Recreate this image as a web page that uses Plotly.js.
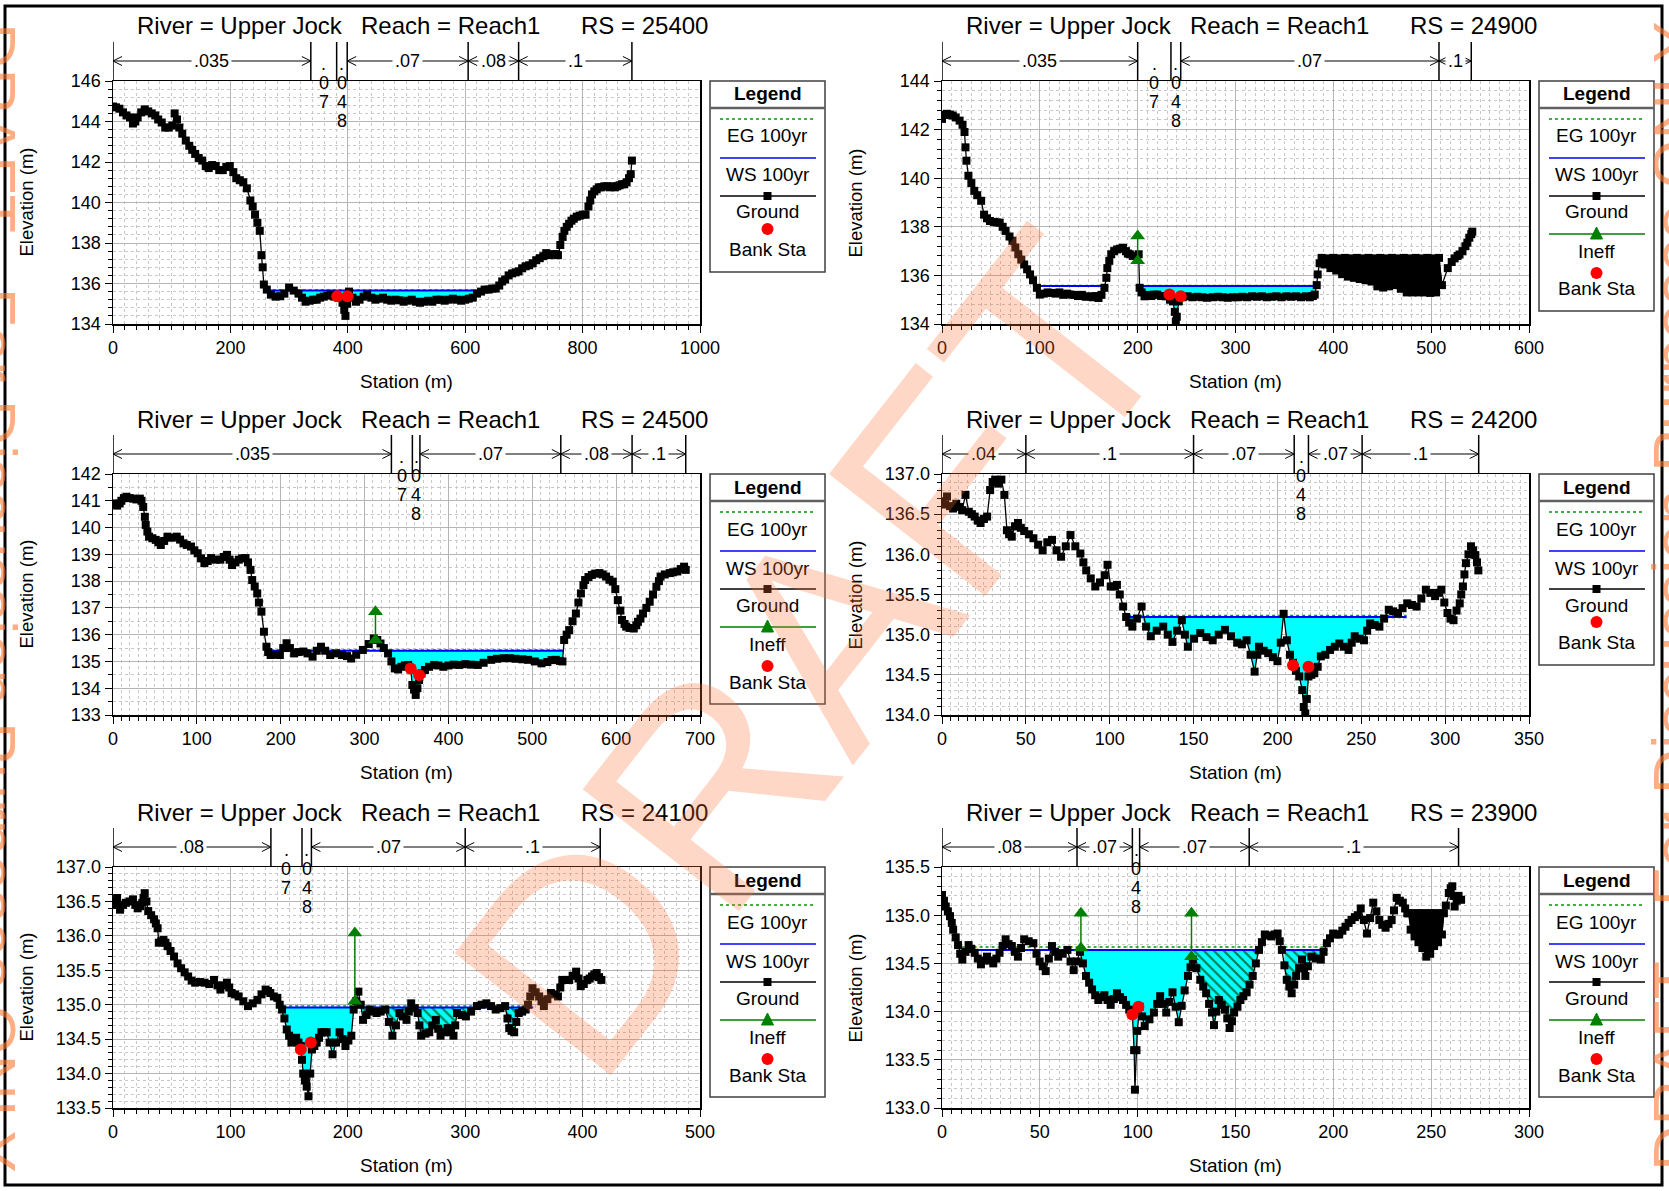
<!DOCTYPE html>
<html><head><meta charset="utf-8">
<script src="https://cdn.plot.ly/plotly-3.0.1.min.js"></script>
<style>html,body{margin:0;padding:0;background:#fff;}#chart{width:1669px;height:1191px;}</style>
</head><body><div id="chart"></div>
<script>
// ---------------- DATA ----------------
const riverName = 'Upper Jock';
const reachName = 'Reach1';
const rsLabels = ['25400', '24900', '24500', '24200', '24100', '23900'];
const legendLabels = {eg: 'EG 100yr', ws: 'WS 100yr', ground: 'Ground', ineff: 'Ineff', bank: 'Bank Sta'};

// Panel 1 RS 25400
const ground1 = [[0,144.74],[5,144.7],[11,144.63],[17,144.45],[23,144.3],[29,144.2],[34,143.9],[38,144.0],[42,144.2],[48,144.45],[54,144.6],[60,144.5],[66,144.4],[72,144.3],[77,144.1],[83,143.95],[89,143.7],[95,143.7],[101,143.8],[105,144.4],[109,144.1],[113,143.7],[118,143.4],[124,143.06],[130,142.8],[135,142.6],[140,142.4],[146,142.2],[152,142.07],[158,141.8],[163,141.7],[169,141.85],[175,141.8],[181,141.6],[187,141.6],[193,141.75],[199,141.8],[205,141.5],[210,141.2],[216,141.1],[222,141.0],[228,140.7],[234,140.1],[238,139.8],[242,139.4],[246,139.0],[250,138.6],[253,137.4],[255,136.8],[257,135.95],[262,135.7],[269,135.45],[277,135.35],[285,135.37],[292,135.5],[300,135.8],[308,135.65],[316,135.5],[322,135.3],[328,135.1],[335,135.15],[341,135.2],[347,135.2],[353,135.3],[359,135.35],[365,135.4],[371,135.45],[377,135.35],[384,135.3],[391,135.05],[394,134.7],[396,134.4],[399,135.0],[402,135.6],[408,135.3],[414,135.1],[420,135.2],[427,135.35],[433,135.45],[440,135.3],[447,135.2],[453,135.25],[460,135.3],[467,135.2],[474,135.15],[481,135.2],[488,135.17],[495,135.1],[502,135.15],[509,135.2],[516,135.1],[523,135.05],[530,135.1],[537,135.15],[544,135.1],[551,135.2],[558,135.2],[565,135.15],[572,135.2],[579,135.25],[586,135.2],[593,135.15],[600,135.2],[606,135.25],[613,135.3],[620,135.5],[627,135.6],[633,135.7],[640,135.7],[646,135.75],[652,135.75],[658,135.9],[663,136.1],[668,136.2],[674,136.4],[680,136.5],[686,136.55],[691,136.6],[697,136.75],[703,136.85],[709,136.9],[715,137.0],[721,137.15],[727,137.25],[733,137.35],[738,137.5],[744,137.4],[750,137.45],[755,137.45],[758,137.4],[762,137.9],[766,138.3],[769,138.6],[773,138.8],[777,138.95],[781,139.1],[785,139.2],[790,139.3],[795,139.35],[800,139.4],[805,139.4],[810,139.8],[813,140.1],[816,140.4],[820,140.55],[824,140.65],[828,140.75],[832,140.75],[837,140.8],[842,140.8],[847,140.75],[851,140.8],[855,140.75],[859,140.8],[863,140.85],[867,140.9],[871,140.9],[875,141.0],[879,141.2],[882,141.4],[884,142.07]];
const bank1 = [[382,135.37],[399.5,135.37]];
const ws1 = 135.65, eg1 = 135.68;
const wsExt1 = [[262,655]];
const cyan1 = [[262,655]];
const hatch1 = [];
const dense1 = [];
const ineff1 = [];
const nBounds1 = [0,337,381,399,605,691,884];
const nVals1 = ['.035','.07','.048','.07','.08','.1'];

// Panel 2 RS 24900
const ground2 = [[0,142.44],[3,142.6],[5,142.65],[8,142.62],[11,142.58],[14,142.5],[18,142.37],[21,142.2],[23,141.9],[24,141.27],[25,140.72],[27,140.1],[30,139.8],[33,139.48],[36,139.3],[40,139.07],[43,138.5],[46,138.35],[49,138.24],[53,138.2],[56,138.18],[59,138.17],[62,138.0],[65,137.83],[69,137.6],[72,137.42],[75,137.15],[78,136.87],[81,136.65],[84,136.45],[87,136.25],[90,136.04],[93,135.8],[97,135.49],[100,135.21],[104,135.25],[108,135.3],[112,135.28],[116,135.25],[120,135.3],[124,135.2],[128,135.25],[131,135.21],[135,135.2],[139,135.15],[143,135.2],[147,135.12],[150,135.14],[154,135.1],[157,135.15],[160,135.07],[163,135.2],[166,135.49],[168,135.9],[169,136.3],[171,136.6],[173,136.87],[176,137.0],[179,137.07],[182,137.1],[185,137.14],[188,137.0],[190,136.9],[192,136.87],[195,136.8],[198,136.8],[201,136.87],[202,135.49],[204,135.3],[207,135.14],[210,135.2],[214,135.15],[217,135.21],[220,135.21],[224,135.15],[229,135.14],[233,135.0],[236,134.93],[238,134.5],[239,134.1],[240,134.3],[242,134.93],[246,135.1],[251,135.14],[256,135.1],[261,135.12],[266,135.1],[271,135.08],[277,135.1],[282,135.12],[287,135.1],[292,135.08],[297,135.1],[302,135.1],[307,135.12],[312,135.1],[317,135.14],[322,135.12],[327,135.14],[332,135.1],[337,135.12],[342,135.14],[347,135.1],[352,135.14],[357,135.12],[362,135.14],[367,135.1],[372,135.14],[376,135.1],[379,135.15],[381,135.21],[383,135.6],[384,136.04],[386,136.5],[388,136.72],[391,136.45],[394,136.7],[397,136.3],[400,136.72],[403,136.2],[406,136.7],[409,136.05],[412,136.72],[415,135.95],[418,136.7],[421,135.9],[424,136.72],[427,135.85],[430,136.7],[433,135.8],[436,136.72],[439,135.75],[442,136.7],[445,135.55],[448,136.72],[451,135.5],[454,136.7],[457,135.55],[460,136.72],[463,135.6],[466,136.7],[469,135.45],[472,136.72],[475,135.3],[478,136.7],[481,135.3],[484,136.72],[487,135.3],[490,136.7],[493,135.3],[496,136.72],[499,135.28],[502,136.7],[505,135.3],[508,136.72],[511,135.6],[517,136.3],[521,136.55],[524,136.7],[527,136.8],[529,136.86],[532,137.0],[535,137.2],[537,137.35],[539,137.55],[541,137.7],[542,137.8]];
const bank2 = [[232.5,135.21],[244,135.14]];
const ws2 = 135.56, eg2 = 135.58;
const wsExt2 = [[97,166],[203,384]];
const cyan2 = [[203,384]];
const hatch2 = [];
const dense2 = [[388,511]];
const ineff2 = [[200,136.6,137.62]];
const nBounds2 = [0,200,234,244,508,541];
const nVals2 = ['.035','.07','.048','.07','.1'];

// Panel 3 RS 24500
const ground3 = [[0,140.9],[3,140.85],[5,140.82],[8,140.9],[10,141.0],[13,141.1],[16,141.15],[20,141.1],[24,141.08],[28,141.05],[32,141.08],[34,141.0],[36,140.77],[38,140.4],[39,140.1],[41,139.85],[43,139.66],[47,139.6],[51,139.54],[54,139.45],[57,139.35],[61,139.5],[65,139.66],[70,139.62],[76,139.66],[80,139.55],[84,139.41],[88,139.35],[93,139.29],[97,139.15],[101,139.04],[105,138.85],[109,138.67],[113,138.75],[117,138.86],[122,138.8],[128,138.8],[132,138.9],[136,138.98],[139,138.8],[142,138.6],[146,138.7],[150,138.8],[154,138.85],[158,138.86],[161,138.7],[164,138.42],[166,138.04],[169,137.8],[172,137.54],[174,137.2],[177,136.86],[180,136.11],[183,135.55],[185,135.35],[188,135.24],[193,135.25],[199,135.24],[203,135.5],[207,135.68],[211,135.5],[216,135.3],[221,135.35],[227,135.37],[232,135.3],[238,135.18],[243,135.4],[248,135.55],[253,135.4],[259,135.24],[266,135.3],[273,135.24],[279,135.2],[284,135.11],[290,135.25],[298,135.43],[305,135.65],[311,135.86],[315,135.8],[319,135.67],[323,135.5],[328,135.3],[332,135.0],[336,134.74],[340,134.7],[344,134.8],[348,134.85],[352,134.87],[355,134.7],[357,134.12],[359,133.95],[361,133.75],[363,134.0],[365,134.31],[368,134.55],[372,134.68],[377,134.8],[383,134.87],[388,134.85],[394,134.8],[400,134.85],[406,134.88],[413,134.87],[420,134.9],[427,134.88],[435,134.87],[442,134.95],[451,135.06],[458,135.1],[466,135.12],[473,135.12],[480,135.1],[488,135.08],[495,135.06],[503,135.0],[511,134.93],[518,134.98],[523,135.05],[528,135.06],[533,135.02],[536,135.0],[538,135.8],[541,136.0],[544,136.17],[548,136.5],[552,136.79],[555,137.2],[558,137.54],[561,137.85],[563,138.04],[567,138.15],[571,138.23],[575,138.28],[580,138.3],[584,138.25],[588,138.17],[592,138.05],[596,137.98],[599,137.7],[602,137.29],[605,136.9],[607,136.55],[610,136.4],[612,136.3],[616,136.25],[621,136.23],[624,136.35],[626,136.48],[629,136.6],[632,136.79],[636,137.0],[640,137.23],[644,137.5],[648,137.79],[651,138.0],[653,138.17],[658,138.25],[664,138.3],[668,138.33],[673,138.36],[677,138.45],[681,138.54],[683,138.42]];
const bank3 = [[355,134.74],[365,134.49]];
const ws3 = 135.4, eg3 = 135.43;
const wsExt3 = [[188,537]];
const cyan3 = [[313,537]];
const hatch3 = [];
const dense3 = [];
const ineff3 = [[313,135.8,136.86]];
const nBounds3 = [0,332,357,366,534,619,683];
const nVals3 = ['.035','.07','.048','.07','.08','.1'];

// Panel 4 RS 24200
const ground4 = [[0,136.66],[1.5,136.62],[3,136.72],[4.8,136.6],[6.6,136.57],[8.5,136.63],[10.3,136.59],[12,136.55],[14,136.74],[16,136.53],[17.8,136.5],[19.5,136.47],[21.3,136.42],[23,136.39],[25,136.44],[26.9,136.47],[28.7,136.8],[30.2,136.9],[31.7,136.93],[33.5,136.88],[35.4,136.93],[37.2,136.74],[38.7,136.3],[40,136.25],[41.6,136.22],[43.5,136.35],[45.3,136.39],[47,136.33],[49,136.29],[51.8,136.25],[54.5,136.2],[57.3,136.12],[60,136.05],[62.8,136.15],[65.6,136.18],[68.3,136.05],[71,135.97],[73.8,136.1],[76.6,136.24],[79.5,136.1],[82.5,136.01],[84.3,135.9],[86,135.8],[88.7,135.7],[91.4,135.6],[94.2,135.65],[97,135.74],[98.7,135.87],[100.6,135.6],[102.5,135.6],[104.3,135.62],[106,135.5],[108,135.35],[109.8,135.22],[111.6,135.15],[113.5,135.1],[116.2,135.2],[119,135.35],[121.7,135.1],[124.5,134.98],[128,135.05],[131.9,135.1],[134.6,135.0],[137.4,134.91],[140.2,135.05],[143,135.18],[144.8,135.0],[146.6,134.85],[150.3,134.95],[154,135.02],[157.7,134.97],[161.4,134.93],[165,135.0],[168.7,135.06],[172.3,134.98],[176,134.9],[178.8,134.88],[181.6,134.93],[184,134.75],[186.4,134.54],[188,134.75],[189,134.85],[191.8,134.8],[194.5,134.77],[197.3,134.72],[200,134.67],[202,134.9],[203.7,135.26],[205.6,134.93],[207.5,134.75],[209.3,134.65],[211,134.55],[213,134.48],[214.8,134.31],[215.7,134.1],[216.6,134.02],[217.5,134.2],[218.5,134.48],[220.2,134.5],[222,134.52],[224,134.6],[225.9,134.73],[228.6,134.75],[231.4,134.81],[234.2,134.85],[236.9,134.89],[239.6,134.85],[242.4,134.81],[244.3,134.9],[246.1,134.98],[249,134.95],[251.6,134.93],[253.5,135.05],[255.3,135.14],[258,135.12],[260.8,135.1],[263.6,135.2],[266.4,135.31],[269,135.29],[271.9,135.27],[274.6,135.33],[277.4,135.39],[280.2,135.37],[283,135.35],[285.8,135.45],[288.5,135.56],[291.2,135.52],[294,135.48],[295.8,135.52],[297.7,135.56],[299.5,135.4],[301.4,135.27],[303.2,135.2],[305,135.18],[306.8,135.3],[308.7,135.39],[309.6,135.5],[310.6,135.6],[311.5,135.75],[312.4,135.89],[313.9,136.0],[315.4,136.1],[316.7,136.05],[318,135.99],[319,135.9],[319.8,135.8]];
const bank4 = [[209.3,134.62],[218.5,134.6]];
const ws4 = 135.22, eg4 = 135.24;
const wsExt4 = [[111,277]];
const cyan4 = [[111,277]];
const hatch4 = [];
const dense4 = [];
const ineff4 = [];
const nBounds4 = [0,50,150,210,218.5,250.5,320];
const nVals4 = ['.04','.1','.07','.048','.07','.1'];

// Panel 5 RS 24100
const ground5 = [[0,136.5],[1.7,136.45],[3.5,136.55],[4.7,136.45],[6,136.38],[8.5,136.45],[11,136.48],[14,136.5],[17,136.53],[19,136.45],[21,136.4],[23,136.43],[25,136.48],[26,136.55],[27,136.62],[28.5,136.5],[30,136.36],[32.5,136.3],[35,136.24],[36.5,136.18],[38,136.11],[39,135.9],[41,135.92],[43,135.94],[44.7,135.9],[46.5,135.85],[49,135.78],[52,135.7],[55,135.6],[58,135.53],[61,135.47],[64,135.41],[67,135.35],[70,135.32],[74,135.33],[78,135.32],[82,135.3],[86,135.36],[89,135.28],[91.5,135.22],[94,135.28],[97,135.32],[99,135.25],[101,135.17],[104,135.15],[107,135.12],[111,135.05],[115,134.98],[119,135.02],[123,135.07],[126.5,135.15],[130,135.22],[132,135.2],[134,135.17],[137,135.12],[140,135.1],[142,135.0],[144,134.93],[146,134.8],[148,134.64],[150,134.55],[152,134.45],[154,134.48],[156,134.52],[158,134.45],[160,134.4],[161,134.2],[162,134.0],[163.5,133.9],[165,133.81],[166.5,133.67],[168,134.0],[169.5,134.35],[171.5,134.4],[173.5,134.45],[175.5,134.52],[177.5,134.6],[180,134.6],[182,134.6],[184.5,134.45],[187,134.28],[190,134.45],[193,134.6],[195.5,134.5],[198,134.4],[200.5,134.48],[203,134.55],[205,134.93],[207,135.05],[209,135.19],[211,135.0],[213,134.78],[216,134.85],[218.5,134.93],[221.5,134.9],[224.5,134.88],[228,134.9],[232,134.93],[235,134.75],[238,134.55],[241,134.7],[244,134.88],[247,134.83],[250,134.78],[252,134.9],[254,135.02],[257,134.95],[259.5,134.88],[261,134.7],[262.5,134.55],[266,134.58],[269.4,134.6],[272,134.7],[275,134.78],[277,134.65],[279,134.55],[282,134.6],[285,134.66],[287.5,134.6],[290,134.55],[291.5,134.7],[293,134.88],[297,134.85],[300.6,134.83],[305,134.9],[310,134.98],[314,135.0],[318,135.02],[322,134.98],[326,134.93],[330,134.95],[334,134.98],[336,134.8],[337.5,134.66],[339.5,134.62],[341.7,134.6],[343.5,134.75],[345.6,134.88],[348.5,134.9],[351.5,134.93],[353.5,135.0],[355.4,135.12],[357.3,135.24],[360,135.18],[363,135.12],[365,135.05],[367,134.98],[370,135.08],[373,135.17],[376,135.15],[379,135.12],[381,135.25],[382.7,135.36],[385.6,135.36],[388.6,135.36],[391.5,135.42],[394.5,135.48],[396.5,135.38],[398.4,135.27],[401,135.3],[404,135.36],[406,135.38],[408,135.41],[410,135.44],[412,135.46],[414,135.4],[416,135.36]];
const bank5 = [[160,134.35],[168.5,134.45]];
const ws5 = 134.96, eg5 = 134.98;
const wsExt5 = [[145,358]];
const cyan5 = [[145,206]];
const hatch5 = [[206,358]];
const dense5 = [];
const ineff5 = [[206,135.05,136.04]];
const nBounds5 = [0,134.5,161,169,300,415];
const nVals5 = ['.08','.07','.048','.07','.1'];

// Panel 6 RS 23900
const ground6 = [[0,135.21],[1,135.15],[1.9,135.09],[3,135.04],[4.1,134.99],[5,134.92],[5.7,134.85],[7,134.77],[8.2,134.69],[9.3,134.6],[10.4,134.54],[12,134.62],[13.6,134.69],[15,134.65],[16.7,134.61],[18.3,134.55],[19.9,134.49],[21.5,134.53],[23,134.57],[24.6,134.53],[26.2,134.5],[27.8,134.55],[29.4,134.61],[31,134.68],[32.5,134.75],[34,134.7],[35.7,134.68],[37.2,134.62],[38.8,134.57],[40.4,134.66],[42,134.75],[44.3,134.73],[46.7,134.71],[48.3,134.6],[49.9,134.52],[51.5,134.47],[53,134.42],[54.6,134.55],[56.2,134.68],[57.8,134.62],[59.4,134.57],[61.7,134.6],[64.1,134.64],[65.7,134.52],[67.3,134.43],[68.9,134.52],[70.5,134.62],[72,134.5],[73.6,134.37],[75.2,134.3],[76.7,134.23],[78.3,134.17],[79.9,134.12],[81.5,134.15],[83,134.17],[84.6,134.12],[86.2,134.07],[87.8,134.13],[89.4,134.19],[91,134.15],[92.5,134.12],[94.1,134.07],[95.7,134.02],[97.3,133.97],[98.2,133.6],[98.6,133.19],[99.4,133.6],[99.8,133.8],[101,134.05],[102.3,133.95],[103.6,133.85],[106,133.92],[108.3,133.99],[110,134.08],[111.5,134.16],[113,134.08],[114.6,133.99],[116.2,134.1],[117.8,134.2],[119.4,134.05],[121,133.89],[122.5,134.06],[124,134.22],[125.7,134.37],[127,134.46],[128.2,134.54],[130,134.45],[132,134.33],[133.5,134.26],[135,134.19],[136.5,134.08],[138,133.99],[139,133.86],[140.2,134.0],[141.5,134.12],[143,134.07],[144.6,134.02],[145.8,133.93],[147,133.83],[148.2,133.9],[149.3,133.99],[151,134.05],[152.5,134.12],[154,134.16],[155.7,134.2],[157.2,134.28],[158.8,134.37],[160.4,134.5],[162,134.64],[163.5,134.72],[165,134.8],[166.6,134.79],[168.3,134.78],[170,134.8],[171.5,134.81],[172.6,134.73],[173.7,134.64],[175,134.48],[176.2,134.33],[177.5,134.26],[178.7,134.19],[180,134.28],[181,134.37],[182.5,134.45],[184,134.54],[185,134.45],[185.7,134.37],[187,134.47],[188.8,134.57],[191,134.55],[193.6,134.54],[195,134.62],[196.7,134.71],[198.3,134.76],[199.9,134.81],[201.5,134.8],[203,134.8],[204.6,134.84],[206.2,134.88],[207.8,134.92],[209.3,134.95],[211,134.98],[212.5,135.0],[214,135.07],[215.6,134.95],[217.2,134.81],[218.8,134.97],[220.4,135.13],[222,135.04],[223.5,134.95],[225,134.9],[226.7,134.87],[228.2,134.91],[229.8,134.95],[231,135.05],[232.4,135.18],[234,135.15],[235.5,135.13],[236.7,135.07],[237.8,135.02],[238.5,135.02],[239.5,134.85],[240.5,135.02],[241.5,134.78],[242.5,135.02],[243.5,134.72],[244.5,135.02],[245.5,134.66],[246.5,135.02],[247.5,134.57],[248.5,135.02],[249.5,134.6],[250.5,135.02],[251.5,134.68],[252.5,135.02],[253.5,134.72],[254.5,135.02],[255.5,134.8],[256.5,135.02],[257.5,135.1],[259,135.23],[260,135.28],[260.8,135.3],[261.4,135.2],[262,135.09],[263,135.15],[264,135.2],[265.3,135.16]];
const bank6 = [[97.3,133.97],[100.4,134.05]];
const ws6 = 134.64, eg6 = 134.67;
const wsExt6 = [[10,164],[175,197]];
const cyan6 = [[71,128]];
const hatch6 = [[128,164],[175,197]];
const dense6 = [[238.5,256.5]];
const ineff6 = [[71,134.66,135.02],[127.5,134.57,135.02]];
const nBounds6 = [0,69,97.3,101,157,264];
const nVals6 = ['.08','.07','.048','.07','.1'];

// ---------------- PRESENTATION ----------------
const W = 1669, H = 1191;
const PX = v => v / W, PY = v => 1 - v / H;
const FONT = 'Liberation Sans, Arial, sans-serif';

const panelData = [
  {ground: ground1, bank: bank1, ws: ws1, eg: eg1, wsExt: wsExt1, cyan: cyan1, hatch: hatch1, dense: dense1, ineff: ineff1, nB: nBounds1, nV: nVals1},
  {ground: ground2, bank: bank2, ws: ws2, eg: eg2, wsExt: wsExt2, cyan: cyan2, hatch: hatch2, dense: dense2, ineff: ineff2, nB: nBounds2, nV: nVals2},
  {ground: ground3, bank: bank3, ws: ws3, eg: eg3, wsExt: wsExt3, cyan: cyan3, hatch: hatch3, dense: dense3, ineff: ineff3, nB: nBounds3, nV: nVals3},
  {ground: ground4, bank: bank4, ws: ws4, eg: eg4, wsExt: wsExt4, cyan: cyan4, hatch: hatch4, dense: dense4, ineff: ineff4, nB: nBounds4, nV: nVals4},
  {ground: ground5, bank: bank5, ws: ws5, eg: eg5, wsExt: wsExt5, cyan: cyan5, hatch: hatch5, dense: dense5, ineff: ineff5, nB: nBounds5, nV: nVals5},
  {ground: ground6, bank: bank6, ws: ws6, eg: eg6, wsExt: wsExt6, cyan: cyan6, hatch: hatch6, dense: dense6, ineff: ineff6, nB: nBounds6, nV: nVals6}
];
const panelGeo = [
  {L:113, R:700, T:81, B:324, legX:710, xr:[0,1000], xd:200, xm:20, yr:[134,146], yd:2, ym:0.4, yf:''},
  {L:942, R:1529, T:81, B:324, legX:1539, xr:[0,600], xd:100, xm:10, yr:[134,144], yd:2, ym:0.4, yf:''},
  {L:113, R:700, T:474, B:715, legX:710, xr:[0,700], xd:100, xm:10, yr:[133,142], yd:1, ym:0.5, yf:''},
  {L:942, R:1529, T:474, B:715, legX:1539, xr:[0,350], xd:50, xm:5, yr:[134,137], yd:0.5, ym:0.1, yf:'.1f'},
  {L:113, R:700, T:867, B:1108, legX:710, xr:[0,500], xd:100, xm:10, yr:[133.5,137], yd:0.5, ym:0.1, yf:'.1f'},
  {L:942, R:1529, T:867, B:1108, legX:1539, xr:[0,300], xd:50, xm:5, yr:[133,135.5], yd:0.5, ym:0.1, yf:'.1f'}
];

function interp(pts, x) {
  for (let i = 0; i < pts.length - 1; i++) {
    const [x0, y0] = pts[i], [x1, y1] = pts[i + 1];
    if (x >= x0 && x <= x1) return x1 === x0 ? y0 : y0 + (y1 - y0) * (x - x0) / (x1 - x0);
  }
  return pts[pts.length - 1][1];
}
function wetPoly(pts, ws, a, b) {
  const xs = [a, a], ys = [ws, Math.min(interp(pts, a), ws)];
  for (const [x, y] of pts) if (x > a && x < b) { xs.push(x); ys.push(Math.min(y, ws)); }
  xs.push(b, b, a); ys.push(Math.min(interp(pts, b), ws), ws, ws);
  return {xs, ys};
}
// envelope of a densely zig-zagging stretch of ground points (upper/lower alternate)
function densePoly(pts, a, b) {
  const sub = pts.filter(p => p[0] >= a && p[0] <= b);
  const up = [], lo = [];
  sub.forEach((p, i) => (i % 2 === 0 ? up : lo).push(p));
  const poly = up.concat(lo.reverse());
  return {xs: poly.map(p => p[0]), ys: poly.map(p => p[1])};
}

const traces = [], shapes = [], annotations = [];
const layout = {
  width: W, height: H, margin: {l: 0, r: 0, t: 0, b: 0},
  paper_bgcolor: 'white', plot_bgcolor: 'white', showlegend: false,
  font: {family: FONT, color: 'black'}
};

function ann(o) { annotations.push(Object.assign({showarrow: false, xref: 'paper', yref: 'paper', font: {family: FONT, size: 18, color: 'black'}}, o)); }

panelGeo.forEach((g, i) => {
  const d = panelData[i];
  const k = i + 1, s = k === 1 ? '' : String(k);
  const xa = 'x' + s, ya = 'y' + s;
  const common = {
    showline: true, mirror: true, linecolor: 'black', linewidth: 1.5,
    ticks: 'outside', ticklen: 7, tickwidth: 1, tickcolor: 'black',
    showgrid: true, gridcolor: '#B5B5B5', gridwidth: 1, zeroline: false,
    tickfont: {family: FONT, size: 18, color: 'black'}, fixedrange: true
  };
  const minorStyle = {ticks: 'outside', ticklen: 4, tickcolor: 'black', showgrid: true, gridcolor: '#C8C8C8', griddash: '3px,3px', gridwidth: 1};
  layout['xaxis' + s] = Object.assign({}, common, {
    domain: [PX(g.L), PX(g.R)], range: g.xr, dtick: g.xd, tick0: 0, anchor: ya,
    minor: Object.assign({dtick: g.xm}, minorStyle)
  });
  layout['yaxis' + s] = Object.assign({}, common, {
    domain: [PY(g.B), PY(g.T)], range: g.yr, dtick: g.yd, tick0: g.yr[0], anchor: xa, tickformat: g.yf,
    minor: Object.assign({dtick: g.ym}, minorStyle)
  });

  d.cyan.forEach(([a, b]) => {
    const p = wetPoly(d.ground, d.ws, a, b);
    traces.push({x: p.xs, y: p.ys, xaxis: xa, yaxis: ya, mode: 'lines', fill: 'toself', fillcolor: '#00FFFF', line: {width: 0, color: '#00FFFF'}, hoverinfo: 'skip'});
  });
  d.hatch.forEach(([a, b]) => {
    const p = wetPoly(d.ground, d.ws, a, b);
    traces.push({x: p.xs, y: p.ys, xaxis: xa, yaxis: ya, mode: 'lines', fill: 'toself', fillcolor: '#00FFFF',
      fillpattern: {shape: '\\', fgcolor: '#0a7a50', bgcolor: '#00FFFF', size: 7, solidity: 0.3},
      line: {width: 0, color: '#00FFFF'}, hoverinfo: 'skip'});
  });
  const wx = [], wy = [], ex = [], ey = [];
  d.wsExt.forEach(([a, b]) => { wx.push(a, b, null); wy.push(d.ws, d.ws, null); ex.push(a, b, null); ey.push(d.eg, d.eg, null); });
  traces.push({x: ex, y: ey, xaxis: xa, yaxis: ya, mode: 'lines', line: {color: '#009900', width: 1.5, dash: 'dot'}, hoverinfo: 'skip'});
  traces.push({x: wx, y: wy, xaxis: xa, yaxis: ya, mode: 'lines', line: {color: '#0000FF', width: 2}, hoverinfo: 'skip'});
  d.dense.forEach(([a, b]) => {
    const p = densePoly(d.ground, a, b);
    traces.push({x: p.xs, y: p.ys, xaxis: xa, yaxis: ya, mode: 'lines', fill: 'toself', fillcolor: 'black', line: {width: 1, color: 'black'}, hoverinfo: 'skip'});
  });
  traces.push({x: d.ground.map(p => p[0]), y: d.ground.map(p => p[1]), xaxis: xa, yaxis: ya, mode: 'lines+markers',
    line: {color: 'black', width: 1.3}, marker: {symbol: 'square', size: 8, color: 'black'}, hoverinfo: 'skip'});
  d.ineff.forEach(([x, lo, hi]) => {
    traces.push({x: [x, x], y: [lo, hi], xaxis: xa, yaxis: ya, mode: 'lines+markers', line: {color: '#008000', width: 1.5},
      marker: {symbol: 'triangle-up', size: 13, color: '#008000'}, hoverinfo: 'skip'});
  });
  traces.push({x: d.bank.map(p => p[0]), y: d.bank.map(p => p[1]), xaxis: xa, yaxis: ya, mode: 'markers',
    marker: {symbol: 'circle', size: 12, color: '#FF0000'}, hoverinfo: 'skip'});

  ann({text: 'River = ' + riverName, x: PX(g.L + 22), y: PY(g.T - 55), xanchor: 'left', yanchor: 'middle', font: {family: FONT, size: 24, color: 'black'}});
  ann({text: 'Reach = ' + reachName, x: PX(g.L + 246), y: PY(g.T - 55), xanchor: 'left', yanchor: 'middle', font: {family: FONT, size: 24, color: 'black'}});
  ann({text: 'RS = ' + rsLabels[i], x: PX(g.L + 466), y: PY(g.T - 55), xanchor: 'left', yanchor: 'middle', font: {family: FONT, size: 24, color: 'black'}});
  ann({text: 'Elevation (m)', x: PX(g.L - 87), y: PY((g.T + g.B) / 2), textangle: -90, xanchor: 'center', yanchor: 'middle', font: {family: FONT, size: 18.5, color: 'black'}});
  ann({text: 'Station (m)', x: PX((g.L + g.R) / 2), y: PY(g.B + 57), xanchor: 'center', yanchor: 'middle', font: {family: FONT, size: 19, color: 'black'}});

  const pxPerUnit = (g.R - g.L) / (g.xr[1] - g.xr[0]);
  const dxU = 9 / pxPerUnit;
  const yA = PY(g.T - 20), dyA = 4.5 / H;
  d.nB.forEach(b => {
    shapes.push({type: 'line', xref: xa, yref: 'paper', x0: b, x1: b, y0: PY(g.T - 39), y1: PY(g.T), line: {color: 'black', width: 1.5}});
  });
  d.nV.forEach((lab, j) => {
    const a = d.nB[j], b = d.nB[j + 1];
    const wpx = (b - a) * pxPerUnit;
    const tw = 18 * (0.278 + 0.556 * (lab.length - 1));
    const mid = (a + b) / 2;
    if (wpx < tw + 10) {
      lab.split('').forEach((ch, ci) => {
        ann({text: ch, x: mid, xref: xa, y: PY(g.T - 17 + 19 * ci), xanchor: 'center', yanchor: 'middle', font: {family: FONT, size: 18, color: 'black'}});
      });
    } else {
      shapes.push({type: 'line', xref: xa, yref: 'paper', x0: a, x1: b, y0: yA, y1: yA, line: {color: 'black', width: 1}});
      shapes.push({type: 'path', xref: xa, yref: 'paper', path: `M ${a + dxU},${yA + dyA} L ${a},${yA} L ${a + dxU},${yA - dyA}`, line: {color: 'black', width: 1}});
      shapes.push({type: 'path', xref: xa, yref: 'paper', path: `M ${b - dxU},${yA + dyA} L ${b},${yA} L ${b - dxU},${yA - dyA}`, line: {color: 'black', width: 1}});
      ann({text: lab, x: mid, xref: xa, y: yA, xanchor: 'center', yanchor: 'middle', bgcolor: 'white', borderpad: 2, font: {family: FONT, size: 18, color: 'black'}});
    }
  });

  const hasIneff = d.ineff.length > 0;
  const lx0 = g.legX, lx1 = g.legX + 115, lc = (lx0 + lx1) / 2, T = g.T;
  const lb = T + (hasIneff ? 230 : 191);
  shapes.push({type: 'rect', xref: 'paper', yref: 'paper', x0: PX(lx0), x1: PX(lx1), y0: PY(lb), y1: PY(T), line: {color: '#404040', width: 1.5}, fillcolor: 'white'});
  shapes.push({type: 'line', xref: 'paper', yref: 'paper', x0: PX(lx0), x1: PX(lx1), y0: PY(T + 27), y1: PY(T + 27), line: {color: '#606060', width: 2.5}});
  ann({text: '<b>Legend</b>', x: PX(lc), y: PY(T + 13), xanchor: 'center', yanchor: 'middle', font: {family: FONT, size: 19, color: 'black'}});
  const segL = PX(lx0 + 10), segR = PX(lx1 - 9);
  const lline = (y, color, dash) => shapes.push({type: 'line', xref: 'paper', yref: 'paper', x0: segL, x1: segR, y0: PY(y), y1: PY(y), line: {color, width: 1.5, dash}});
  const ltext = (t, y) => ann({text: t, x: PX(lc), y: PY(y), xanchor: 'center', yanchor: 'middle', font: {family: FONT, size: 19, color: 'black'}});
  lline(T + 38, '#009900', 'dot'); ltext(legendLabels.eg, T + 55);
  lline(T + 77, '#0000FF', 'solid'); ltext(legendLabels.ws, T + 94);
  lline(T + 115, 'black', 'solid');
  shapes.push({type: 'rect', xref: 'paper', yref: 'paper', x0: PX(lc - 4), x1: PX(lc + 4), y0: PY(T + 119), y1: PY(T + 111), fillcolor: 'black', line: {width: 0}});
  ltext(legendLabels.ground, T + 131);
  let bankY = T + 148, bankT = T + 168;
  if (hasIneff) {
    lline(T + 153, '#008000', 'solid');
    shapes.push({type: 'path', xref: 'paper', yref: 'paper', path: `M ${PX(lc - 6)},${PY(T + 158)} L ${PX(lc + 6)},${PY(T + 158)} L ${PX(lc)},${PY(T + 146)} Z`, fillcolor: '#008000', line: {color: '#008000', width: 1}});
    ltext(legendLabels.ineff, T + 170);
    bankY = T + 192; bankT = T + 208;
  }
  shapes.push({type: 'circle', xref: 'paper', yref: 'paper', x0: PX(lc - 6), x1: PX(lc + 6), y0: PY(bankY + 6), y1: PY(bankY - 6), fillcolor: '#FF0000', line: {color: '#FF0000', width: 0}});
  ltext(legendLabels.bank, bankT);
});

shapes.push({type: 'rect', xref: 'paper', yref: 'paper', x0: PX(5), x1: PX(1662), y0: PY(1185), y1: PY(6), line: {color: 'black', width: 3}});

ann({text: 'DRAFT', x: PX(813), y: PY(654), xanchor: 'center', yanchor: 'middle', textangle: -52,
  font: {family: FONT, size: 288, color: 'rgba(255,110,50,0.28)'}});
ann({text: 'DRAFT - For Discussion Purposes ONLY', x: PX(-6), y: PY(597), xanchor: 'center', yanchor: 'middle', textangle: 90,
  font: {family: FONT, size: 63, color: 'rgba(255,120,50,0.6)'}});
ann({text: 'DRAFT - For Discussion Purposes ONLY', x: PX(1675), y: PY(597), xanchor: 'center', yanchor: 'middle', textangle: -90,
  font: {family: FONT, size: 63, color: 'rgba(255,120,50,0.6)'}});

layout.shapes = shapes;
layout.annotations = annotations;
Plotly.newPlot('chart', traces, layout, {staticPlot: true, displayModeBar: false});
</script></body></html>
